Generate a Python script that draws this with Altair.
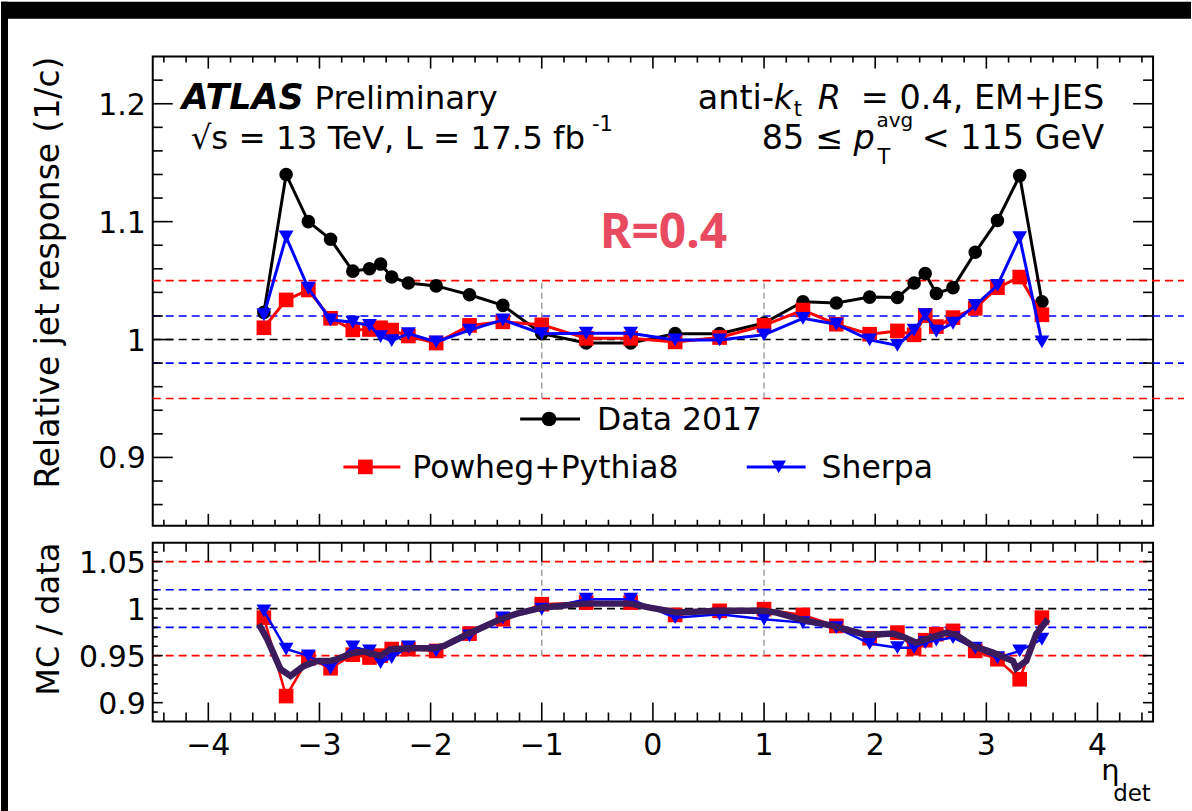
import altair as alt
import pandas as pd

# ---------------- data ----------------
eta = [-3.5, -3.3, -3.1, -2.9, -2.7, -2.55, -2.45, -2.35, -2.2, -1.95, -1.65, -1.35, -1.0,
       -0.6, -0.2, 0.2, 0.6,
       1.0, 1.35, 1.65, 1.95, 2.2, 2.35, 2.45, 2.55, 2.7, 2.9, 3.1, 3.3, 3.5]

data_resp = [1.023, 1.140, 1.100, 1.085, 1.058, 1.060, 1.064, 1.053, 1.048, 1.0455, 1.038, 1.029, 1.005,
             0.997, 0.997, 1.005, 1.005,
             1.014, 1.032, 1.031, 1.036, 1.0356, 1.048, 1.056, 1.039, 1.044, 1.074, 1.101, 1.139, 1.032]

powheg_resp = [1.010, 1.0336, 1.042, 1.018, 1.0082, 1.0085, 1.010, 1.008, 1.003, 0.997, 1.012, 1.015, 1.0125,
               1.001, 1.001, 0.998, 1.0017,
               1.012, 1.025, 1.013, 1.0045, 1.0073, 1.004, 1.0203, 1.011, 1.0186, 1.0265, 1.044, 1.053, 1.021]

sherpa_resp = [1.021, 1.087, 1.0435, 1.0167, 1.0147, 1.012, 1.0025, 0.999, 1.005, 0.998, 1.008, 1.0167, 1.005,
               1.0053, 1.0053, 0.9997, 0.9997,
               1.004, 1.018, 1.013, 0.9997, 0.995, 1.008, 1.021, 1.007, 1.0138, 1.029, 1.046, 1.0864, 0.998]

powheg_ratio = [0.9904, 0.907, 0.947, 0.9366, 0.951, 0.948, 0.950, 0.957, 0.957, 0.955, 0.9734, 0.9887, 1.0047,
                1.0064, 1.0064, 0.9933, 0.9976,
                0.9994, 0.9933, 0.9816, 0.9685, 0.9745, 0.9579, 0.9664, 0.9728, 0.9763, 0.955, 0.9462, 0.9249, 0.9904]

sherpa_ratio = [0.9976, 0.957, 0.9497, 0.9366, 0.9593, 0.955, 0.9426, 0.9479, 0.9593, 0.955, 0.971, 0.990, 0.9994,
                1.010, 1.010, 0.9904, 0.994,
                0.9887, 0.9851, 0.9798, 0.9628, 0.9585, 0.9585, 0.9638, 0.9664, 0.9692, 0.9579, 0.9479, 0.955, 0.9674]

combo_eta = [-3.545, -3.47, -3.35, -3.26, -3.14, -3.02, -2.90, -2.84, -2.72, -2.60, -2.45, -2.36, -2.18,
             -1.97, -1.88, -1.67, -1.373, -1.223, -0.999, -0.625, -0.205, -0.026, 0.214, 0.603, 0.992,
             1.113, 1.352, 1.621, 1.921, 2.16, 2.25, 2.37, 2.46, 2.64, 2.73, 2.879, 3.059, 3.239, 3.269,
             3.359, 3.449, 3.553]
combo_ratio = [0.9834, 0.9674, 0.9355, 0.9284, 0.939, 0.9444, 0.9444, 0.9462, 0.9521, 0.9543, 0.9497, 0.9568, 0.9579,
               0.9579, 0.9603, 0.9728, 0.9887, 0.9947, 1.001, 1.0053, 1.0053, 1.001, 0.996, 0.9976, 0.9976,
               0.9957, 0.9877, 0.9816, 0.972, 0.9734, 0.970, 0.9638, 0.9674, 0.9745, 0.972, 0.9603, 0.9532, 0.9444, 0.9366,
               0.9444, 0.9728, 0.9887]

x_major = [-4, -3, -2, -1, 0, 1, 2, 3, 4]
x_labels = ["\u22124", "\u22123", "\u22122", "\u22121", "0", "1", "2", "3", "4"]
x_minor = [-4.4, -4.2, -3.8, -3.6, -3.4, -3.2, -2.8, -2.6, -2.4, -2.2, -1.8, -1.6, -1.4, -1.2,
           -0.8, -0.6, -0.4, -0.2, 0.2, 0.4, 0.6, 0.8, 1.2, 1.4, 1.6, 1.8, 2.2, 2.4, 2.6, 2.8,
           3.2, 3.4, 3.6, 3.8, 4.2, 4.4]
up_major = [0.9, 1.0, 1.1, 1.2]
up_labels = ["0.9", "1", "1.1", "1.2"]
up_minor = [0.86, 0.88, 0.92, 0.94, 0.96, 0.98, 1.02, 1.04, 1.06, 1.08, 1.12, 1.14, 1.16, 1.18, 1.22]
lo_major = [0.9, 0.95, 1.0, 1.05]
lo_labels = ["0.9", "0.95", "1", "1.05"]
lo_minor = [0.89, 0.91, 0.92, 0.93, 0.94, 0.96, 0.97, 0.98, 0.99, 1.01, 1.02, 1.03, 1.04, 1.06]

up_red_lines = [0.95, 1.05]
up_blue_lines = [0.98, 1.02]
ref_black = [1.0]
lo_red_lines = [0.95, 1.05]
lo_blue_lines = [0.98, 1.02]
vlines = [-1.0, 1.0]

# ---------------- layout ----------------
FONT = "DejaVu Sans"
W = 1002
H1 = 470
H2 = 179
GAP = 17
XDOM = [-4.5, 4.5]
UPDOM = [0.842, 1.24]
LODOM = [0.88, 1.07]

xs = alt.Scale(domain=XDOM, nice=False, zero=False)
ys_up = alt.Scale(domain=UPDOM, nice=False, zero=False)
ys_lo = alt.Scale(domain=LODOM, nice=False, zero=False)

one = pd.DataFrame({"a": [0]})
df_up = pd.DataFrame({"eta": eta, "data": data_resp, "powheg": powheg_resp, "sherpa": sherpa_resp})
df_lo = pd.DataFrame({"eta": eta, "powheg": powheg_ratio, "sherpa": sherpa_ratio})
df_combo = pd.DataFrame({"eta": combo_eta, "r": combo_ratio})


def txt(s, x, y, size=32, **kw):
    opts = dict(font=FONT, fontSize=size, align="left", baseline="alphabetic", color="black")
    opts.update(kw)
    return alt.Chart(one).mark_text(text=s, **opts).encode(x=alt.value(x), y=alt.value(y))


def hlines(vals, color, scale, x2, dash=(8, 5)):
    return alt.Chart(pd.DataFrame({"v": vals})).mark_rule(
        color=color, strokeWidth=1.6, strokeDash=list(dash)
    ).encode(y=alt.Y("v:Q", scale=scale, axis=None), x=alt.value(0), x2=alt.value(x2))


def vdash(scale):
    return alt.Chart(pd.DataFrame({"v": vlines, "lo": [0.95, 0.95], "hi": [1.05, 1.05]})).mark_rule(
        color="#999999", strokeWidth=1.4, strokeDash=[6, 4]
    ).encode(x=alt.X("v:Q", scale=xs, axis=None), y=alt.Y("lo:Q", scale=scale, axis=None), y2="hi:Q")


def yticks(vals, scale, length, width):
    d = pd.DataFrame({"v": vals})
    left = alt.Chart(d).mark_rule(color="black", strokeWidth=1.6).encode(
        y=alt.Y("v:Q", scale=scale, axis=None), x=alt.value(0), x2=alt.value(length))
    right = alt.Chart(d).mark_rule(color="black", strokeWidth=1.6).encode(
        y=alt.Y("v:Q", scale=scale, axis=None), x=alt.value(width), x2=alt.value(width - length))
    return [left, right]


def xticks(vals, length, height):
    d = pd.DataFrame({"v": vals})
    bot = alt.Chart(d).mark_rule(color="black", strokeWidth=1.6).encode(
        x=alt.X("v:Q", scale=xs, axis=None), y=alt.value(height), y2=alt.value(height - length))
    top = alt.Chart(d).mark_rule(color="black", strokeWidth=1.6).encode(
        x=alt.X("v:Q", scale=xs, axis=None), y=alt.value(0), y2=alt.value(length))
    return [bot, top]


def ylabels(vals, labels, scale):
    d = pd.DataFrame({"v": vals, "t": labels})
    return alt.Chart(d).mark_text(font=FONT, fontSize=30, align="right", baseline="alphabetic",
                                  dy=11, color="black").encode(
        y=alt.Y("v:Q", scale=scale, axis=None), x=alt.value(-7), text="t:N")


def series(df, field, color, shape, size, sw, scale):
    base = alt.Chart(df)
    line = base.mark_line(color=color, strokeWidth=sw).encode(
        x=alt.X("eta:Q", scale=xs, axis=None), y=alt.Y(f"{field}:Q", scale=scale, axis=None))
    pts = base.mark_point(shape=shape, filled=True, size=size, color=color, opacity=1).encode(
        x=alt.X("eta:Q", scale=xs, axis=None), y=alt.Y(f"{field}:Q", scale=scale, axis=None))
    return [line, pts]


# black frame bands of the picture (outside the plot)
band_top = alt.Chart(one).mark_rect(color="black").encode(
    x=alt.value(-152), x2=alt.value(1192 - 152), y=alt.value(-55), y2=alt.value(-38))
band_left = alt.Chart(one).mark_rect(color="black").encode(
    x=alt.value(-152), x2=alt.value(-145), y=alt.value(-55), y2=alt.value(811 - 55))

up_layers = [band_top, band_left,
             hlines(up_red_lines, "#ff0000", ys_up, W + 31),
             hlines(up_blue_lines, "#0000ff", ys_up, W + 31),
             hlines(ref_black, "black", ys_up, W),
             vdash(ys_up)]
up_layers += series(df_up, "data", "black", "circle", 185, 3, ys_up)
up_layers += series(df_up, "powheg", "#ff0000", "square", 215, 3, ys_up)
up_layers += series(df_up, "sherpa", "#0000ff", "triangle-down", 220, 3, ys_up)
up_layers += yticks(up_major, ys_up, 20, W)
up_layers += yticks(up_minor, ys_up, 10, W)
up_layers += xticks(x_major, 12, H1)
up_layers += xticks(x_minor, 6, H1)
up_layers.append(ylabels(up_major, up_labels, ys_up))
up_layers.append(txt("Relative jet response (1/c)", -94, 0, 33, angle=270, align="right"))

# texts (upper)
up_layers += [
    txt("ATLAS", 29, 53, 35, fontWeight="bold", fontStyle="italic"),
    txt("Preliminary", 162, 53, 32.5),
    txt("\u221as = 13 TeV, L = 17.5 fb", 38, 93, 32.5),
    txt("-1", 440, 75, 21),
    txt("anti-", 546, 53, 33.5),
    txt("k", 622, 53, 33.5, fontStyle="italic"),
    txt("t", 642, 60, 21),
    txt("R", 666, 53, 33.5, fontStyle="italic"),
    txt("= 0.4, EM+JES", 953, 53, 33.5, align="right"),
    txt("85 \u2264", 610, 93, 33.5),
    txt("p", 702, 93, 33.5, fontStyle="italic"),
    txt("avg", 725, 71, 20),
    txt("T", 726, 108, 21),
    txt("< 115 GeV", 953, 93, 33.5, align="right"),
    txt("R=0.4", 448, 192, 48, font="Noto Sans", fontWeight="bold", color="#e84a5f"),
]

# legend (upper)
def leg(x1, x2, y, xm, color, shape, label, xt):
    ln = alt.Chart(one).mark_rule(color=color, strokeWidth=3).encode(
        x=alt.value(x1), x2=alt.value(x2), y=alt.value(y))
    mk = alt.Chart(one).mark_point(shape=shape, filled=True, size=215, color=color, opacity=1).encode(
        x=alt.value(xm), y=alt.value(y))
    t = txt(label, xt, y + 11, 31.5)
    return [ln, mk, t]

up_layers += leg(368, 428, 363, 397, "black", "circle", "Data 2017", 445)
up_layers += leg(191, 248, 411, 213, "#ff0000", "square", "Powheg+Pythia8", 260)
up_layers += leg(595, 654, 411, 627, "#0000ff", "triangle-down", "Sherpa", 670)

upper = alt.layer(*up_layers).properties(width=W, height=H1)

# ---------------- lower panel ----------------
lo_layers = [hlines(lo_red_lines, "#ff0000", ys_lo, W),
             hlines(lo_blue_lines, "#0000ff", ys_lo, W),
             hlines(ref_black, "black", ys_lo, W),
             vdash(ys_lo)]
lo_layers += series(df_lo, "powheg", "#ff0000", "square", 215, 2.5, ys_lo)
lo_layers += series(df_lo, "sherpa", "#0000ff", "triangle-down", 220, 2.5, ys_lo)
lo_layers.append(alt.Chart(df_combo).mark_line(color="#3a1c5c", strokeWidth=6.5).encode(
    x=alt.X("eta:Q", scale=xs, axis=None), y=alt.Y("r:Q", scale=ys_lo, axis=None)))
lo_layers += yticks(lo_major, ys_lo, 10, W)
lo_layers += yticks(lo_minor, ys_lo, 5, W)
lo_layers += xticks(x_major, 19, H2)
lo_layers += xticks(x_minor, 9, H2)
lo_layers.append(ylabels(lo_major, lo_labels, ys_lo))
lo_layers.append(alt.Chart(pd.DataFrame({"v": x_major, "t": x_labels})).mark_text(
    font=FONT, fontSize=30, align="center", baseline="alphabetic", color="black").encode(
    x=alt.X("v:Q", scale=xs, axis=None), y=alt.value(213), text="t:N"))
lo_layers.append(txt("MC / data", -94, 0, 32, angle=270, align="right"))
lo_layers += [txt("\u03b7", 950, 238, 29), txt("det", 962, 259, 23)]

lower = alt.layer(*lo_layers).properties(width=W, height=H2)

chart = alt.vconcat(upper, lower, spacing=GAP, bounds="flush").properties(
    padding=0, background="white"
).configure_view(stroke="black", strokeWidth=2)

chart.save("out.html", embed_options={"renderer": "svg", "actions": False})
